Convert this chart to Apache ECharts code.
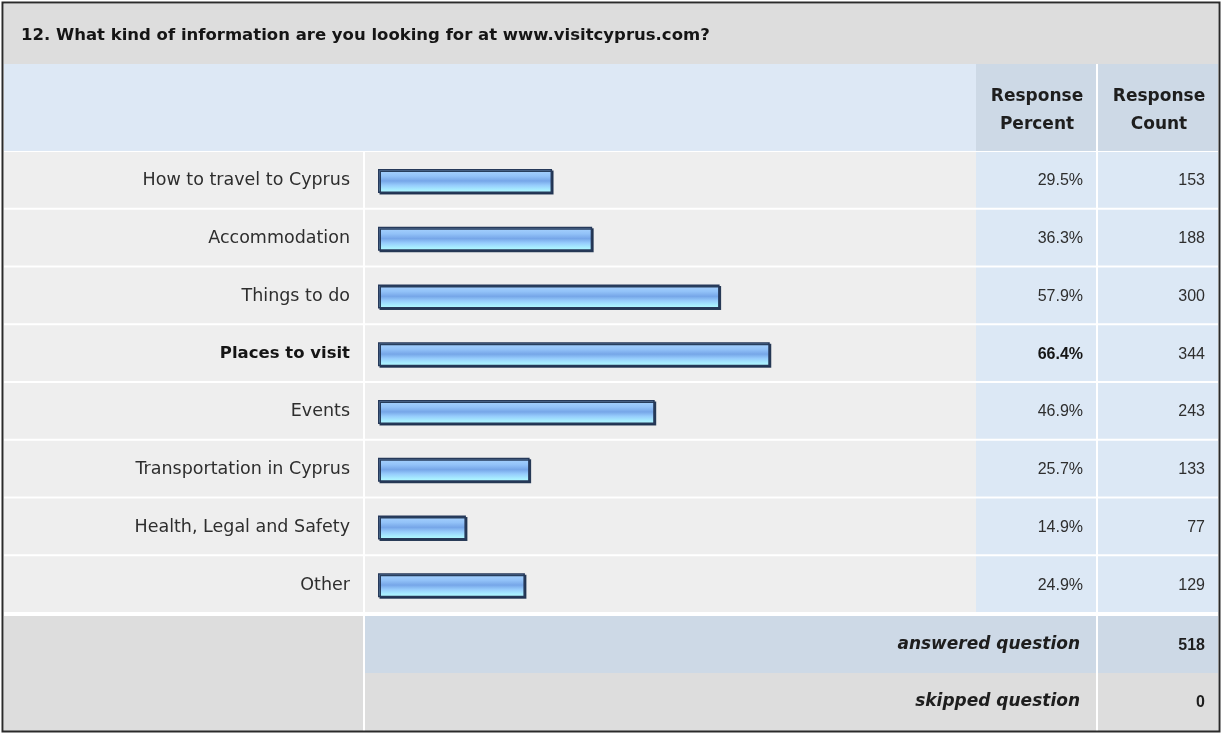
<!DOCTYPE html>
<html>
<head>
<meta charset="utf-8">
<script src="https://cdn.jsdelivr.net/npm/echarts@6/dist/echarts.min.js"></script>
<style>
html,body{margin:0;padding:0;background:#fff;}
#chart{width:1226px;height:733px;}
</style>
</head>
<body>
<div id="chart"></div>
<script>
// ---- data ----
const titleText = "12. What kind of information are you looking for at www.visitcyprus.com?";
const categories = ["How to travel to Cyprus","Accommodation","Things to do","Places to visit","Events","Transportation in Cyprus","Health, Legal and Safety","Other"];
const percents = [29.5, 36.3, 57.9, 66.4, 46.9, 25.7, 14.9, 24.9];
const counts = [153, 188, 300, 344, 243, 133, 77, 129];
const headerPercent = ["Response", "Percent"];
const headerCount = ["Response", "Count"];
const answeredLabel = "answered question";
const answeredCount = 518;
const skippedLabel = "skipped question";
const skippedCount = 0;

// ---- layout ----
const TXT = "'DejaVu Sans', Verdana, sans-serif";
const NUM = "'Liberation Sans', Arial, Helvetica, sans-serif";
const L = 4, R = 1218;
const labelEnd = 363, barStart = 365, pctStart = 976, pctEnd = 1096, cntStart = 1098;
const titleTop = 4, headTop = 64, headBot = 151, rowTop = 152, rowH = 57.75;
const nRows = categories.length;
const rowsEnd = rowTop + rowH * nRows; // 614
const ansTop = rowsEnd + 2, ansBot = ansTop + 57, skBot = 731;
const maxIdx = percents.indexOf(Math.max(...percents));
const pctRight = 1083, cntRight = 1205;

const g = [];
function rect(x, y, w, h, fill){ g.push({type:'rect', z:0, silent:true, shape:{x:x, y:y, width:w, height:h}, style:{fill:fill}}); }
function text(x, y, t, font, opt){ g.push({type:'text', z:10, silent:true, x:x, y:y, style:Object.assign({text:t, font:font, fill:'#1e1e1e', textAlign:'left', textVerticalAlign:'middle'}, opt||{})}); }

// title
rect(L, titleTop, R - L, headTop - titleTop, '#dddddd');
text(21, 36, titleText, "bold 16.5px " + TXT, {fill:'#151515'});
// header
rect(L, headTop, pctStart - L, headBot - headTop, '#dde8f5');
rect(pctStart, headTop, pctEnd - pctStart, headBot - headTop, '#cdd9e6');
rect(cntStart, headTop, R - cntStart, headBot - headTop, '#cdd9e6');
text((pctStart + pctEnd) / 2 + 1, 97, headerPercent[0], "bold 17px " + TXT, {textAlign:'center'});
text((pctStart + pctEnd) / 2 + 1, 125, headerPercent[1], "bold 17px " + TXT, {textAlign:'center'});
text((cntStart + R) / 2 + 1, 97, headerCount[0], "bold 17px " + TXT, {textAlign:'center'});
text((cntStart + R) / 2 + 1, 125, headerCount[1], "bold 17px " + TXT, {textAlign:'center'});
// data rows
for (let i = 0; i < nRows; i++) {
  const y = rowTop + rowH * i;
  const h = rowH - 2;
  rect(L, y, labelEnd - L, h, '#eeeeee');
  rect(barStart, y, pctStart - barStart, h, '#eeeeee');
  rect(pctStart, y, pctEnd - pctStart, h, '#dce8f5');
  rect(cntStart, y, R - cntStart, h, '#dce8f5');
}
// footer
rect(L, ansTop, labelEnd - L, skBot - ansTop, '#dddddd');
rect(barStart, ansTop, pctEnd - barStart, ansBot - ansTop, '#cdd9e6');
rect(cntStart, ansTop, R - cntStart, ansBot - ansTop, '#cdd9e6');
rect(barStart, ansBot, pctEnd - barStart, skBot - ansBot, '#dddddd');
rect(cntStart, ansBot, R - cntStart, skBot - ansBot, '#dddddd');
text(1080, (ansTop + ansBot) / 2, answeredLabel, "italic bold 17px " + TXT, {textAlign:'right'});
text(cntRight, (ansTop + ansBot) / 2 + 1, String(answeredCount), "bold 16px " + NUM, {textAlign:'right'});
text(1080, (ansBot + skBot) / 2, skippedLabel, "italic bold 17px " + TXT, {textAlign:'right'});
text(cntRight, (ansBot + skBot) / 2 + 1, String(skippedCount), "bold 16px " + NUM, {textAlign:'right'});
// outer frame
g.push({type:'rect', z:20, silent:true, shape:{x:2.5, y:2.5, width:1217, height:729}, style:{fill:null, stroke:'#2a2a2a', lineWidth:2}});

const gridLeft = 378, gridWidth = 590;
const gridRight = gridLeft + gridWidth;
const chart = echarts.init(document.getElementById('chart'), null, {renderer:'canvas'});
chart.setOption({
  animation: false,
  backgroundColor: '#ffffff',
  graphic: g,
  grid: {left: gridLeft, top: rowTop, width: gridWidth, height: rowH * nRows, containLabel: false},
  xAxis: {type: 'value', min: 0, max: 100, show: false},
  yAxis: [
    {type: 'category', data: categories, inverse: true,
      axisLine: {show: false}, axisTick: {show: false}, splitLine: {show: false},
      axisLabel: {margin: 28, fontSize: 17.5, color: '#2e2e2e', fontFamily: TXT,
        formatter: function (v, i) { return i === maxIdx ? '{b|' + v + '}' : v; },
        rich: {b: {fontWeight: 'bold', fontSize: 16.5, color: '#151515', fontFamily: TXT}}}},
    {type: 'category', data: percents.map(p => p.toFixed(1) + '%'), inverse: true, position: 'right',
      axisLine: {show: false}, axisTick: {show: false}, splitLine: {show: false},
      axisLabel: {margin: pctRight - gridRight, align: 'right', fontSize: 16, color: '#2e2e2e', fontFamily: NUM,
        formatter: function (v, i) { return i === maxIdx ? '{b|' + v + '}' : v; },
        rich: {b: {fontWeight: 'bold', fontSize: 16, color: '#151515', fontFamily: NUM}}}},
    {type: 'category', data: counts.map(String), inverse: true, position: 'right',
      axisLine: {show: false}, axisTick: {show: false}, splitLine: {show: false},
      axisLabel: {margin: cntRight - gridRight, align: 'right', fontSize: 16, color: '#2e2e2e', fontFamily: NUM}}
  ],
  series: [{
    type: 'bar', yAxisIndex: 0, data: percents, barWidth: 24, z: 5,
    itemStyle: {
      color: new echarts.graphic.LinearGradient(0, 0, 0, 1, [
        {offset: 0, color: '#acd6ff'},
        {offset: 0.3, color: '#92c2f8'},
        {offset: 0.5, color: '#76a6e8'},
        {offset: 0.68, color: '#96ccfc'},
        {offset: 0.85, color: '#a6eaff'},
        {offset: 1, color: '#b4fdff'}
      ]),
      borderColor: '#26395a', borderWidth: 1.5,
      shadowColor: 'rgba(25,45,75,0.9)', shadowOffsetX: 1.5, shadowOffsetY: 1.5, shadowBlur: 0
    }
  }]
});
</script>
</body>
</html>
